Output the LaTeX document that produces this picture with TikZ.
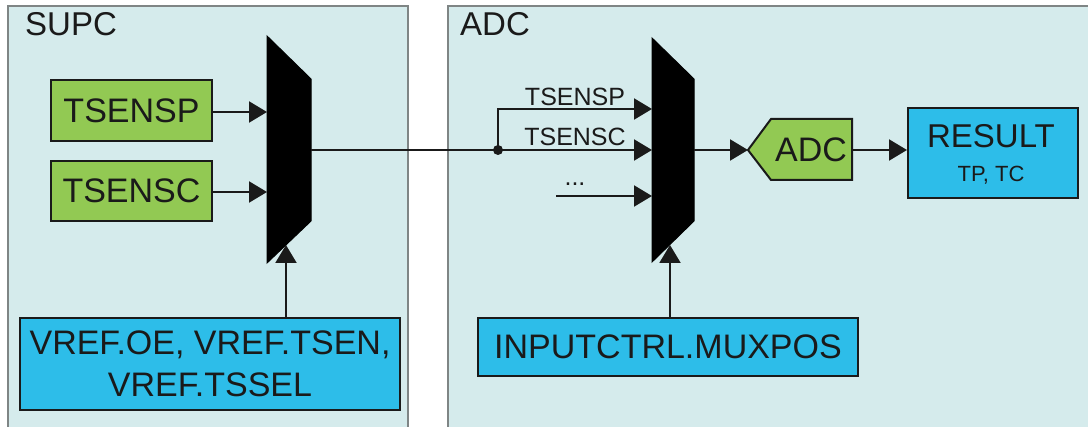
\documentclass[tikz,border=0pt]{standalone}
\usepackage{fontspec}
\setmainfont{Liberation Sans}
\usetikzlibrary{arrows.meta}
\definecolor{panelfill}{HTML}{D5EBEC}
\definecolor{panelline}{HTML}{7F8585}
\definecolor{grn}{HTML}{92C953}
\definecolor{blu}{HTML}{2DBDE9}
\definecolor{txt}{HTML}{1A1A1A}
\tikzset{
  panel/.style={fill=panelfill, draw=panelline, line width=2pt},
  gbox/.style={fill=grn, draw=txt, line width=2pt, inner sep=0pt, text=txt, font=\fontsize{34}{40}\selectfont},
  bbox/.style={fill=blu, draw=txt, line width=2pt, inner sep=0pt, text=txt, font=\fontsize{34}{42}\selectfont, align=center},
  conn/.style={draw=txt, line width=2pt, -{Triangle[length=18pt,width=21pt]}},
  wire/.style={draw=txt, line width=2pt},
  mux/.style={fill=black, draw=black, line width=1pt},
  title/.style={text=txt, font=\fontsize{33}{38}\selectfont, anchor=base west, inner sep=0pt},
  small/.style={text=txt, font=\fontsize{25}{28}\selectfont, anchor=base, inner sep=0pt}
}
\begin{document}
\begin{tikzpicture}[x=1pt, y=-1pt]
\useasboundingbox (0,0) rectangle (1088,427);
% panels
\path[panel] (8,440) -- (8,6) -- (408,6) -- (408,440);
\path[panel] (448,440) -- (448,6) -- (1100,6) -- (1100,440);
\node[title] (supc) at (25,36) {SUPC};
\node[title] (adct) at (460,36) {ADC};
% SUPC boxes
\node[gbox, minimum width=161pt, minimum height=61pt] (tsp) at (131.5,110.5) {TSENSP};
\node[gbox, minimum width=161pt, minimum height=60pt] (tsc) at (131.5,191) {TSENSC};
\node[bbox, minimum width=380pt, minimum height=92pt] (vref) at (210,364) {VREF.OE, VREF.TSEN,\\VREF.TSSEL};
% mux 1
\path[mux] (267,36) -- (311,79) -- (311,221) -- (267,263) -- cycle;
\coordinate (m1a) at (267,112);
\coordinate (m1b) at (267,192);
\coordinate (m1s) at (286,245);
\coordinate (m1o) at (311,150);
\draw[conn] (tsp.east |- m1a) -- (m1a);
\draw[conn] (tsc.east |- m1b) -- (m1b);
\draw[conn] (vref.north -| m1s) -- (m1s);
% junction
\coordinate (j) at (498,150);
\draw[wire] (m1o) -- (j);
\fill[txt] (j) circle (5pt);
% mux 2
\path[mux] (652,38) -- (694,79) -- (694,221) -- (652,262) -- cycle;
\coordinate (m2a) at (652,109);
\coordinate (m2b) at (652,150);
\coordinate (m2c) at (652,196);
\coordinate (m2s) at (670,245);
\coordinate (m2o) at (694,150);
\coordinate (dotsstart) at (556,196);
\draw[conn] (j) |- (m2a);
\draw[conn] (j) -- (m2b);
\draw[conn] (dotsstart) -- (m2c);
\node[small] (lsp) at (575,106) {TSENSP};
\node[small] (lsc) at (575,146) {TSENSC};
\node[small] (ldots) at (575,186) {...};
\node[bbox, minimum width=380pt, minimum height=58pt] (inp) at (668,347) {INPUTCTRL.MUXPOS};
\draw[conn] (inp.north -| m2s) -- (m2s);
% ADC shape
\path[fill=grn, draw=txt, line width=2pt] (748,150) -- (771,119) -- (852,119) -- (852,180) -- (771,180) -- cycle;
\coordinate (adctip) at (748,150);
\coordinate (adcr) at (852,150);
\node[text=txt, font=\fontsize{34}{40}\selectfont, inner sep=0pt] (adc) at (811,150) {ADC};
\draw[conn] (m2o) -- (adctip);
% RESULT
\node[bbox, minimum width=170pt, minimum height=90pt] (res) at (993,153) {};
\node[text=txt, font=\fontsize{33}{38}\selectfont, inner sep=0pt, anchor=base] (rest) at (991,148) {RESULT};
\node[text=txt, font=\fontsize{22}{26}\selectfont, inner sep=0pt, anchor=base] (tptc) at (991,182) {TP, TC};
\draw[conn] (adcr) -- (res.west |- adcr);
\end{tikzpicture}
\end{document}
